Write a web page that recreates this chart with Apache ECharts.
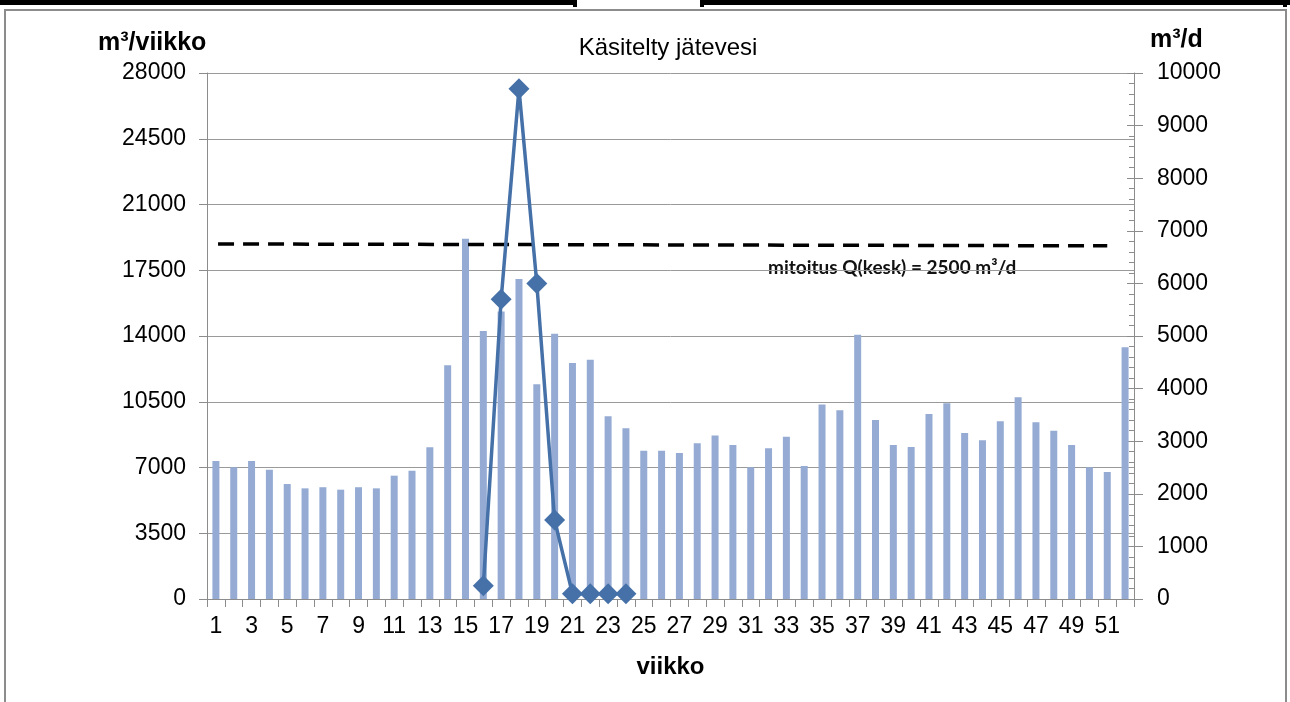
<!DOCTYPE html>
<html>
<head>
<meta charset="utf-8">
<script src="https://cdn.jsdelivr.net/npm/echarts@6/dist/echarts.min.js"></script>
<style>html,body{margin:0;padding:0;background:#fff;}#c{width:1290px;height:702px;}</style>
</head>
<body>
<div id="c"></div>
<script>
const weeks = Array.from({length: 52}, (_, i) => String(i + 1));
const weeklyVolume = [7350, 7010, 7350, 6885, 6120, 5890, 5950, 5820, 5950, 5890,
  6565, 6830, 8075, 12440, 19180, 14270, 15300, 17030, 11430, 14125,
  12560, 12740, 9725, 9085, 7895, 7895, 7770, 8290, 8710, 8200,
  7010, 8020, 8640, 7080, 10360, 10045, 14070, 9530, 8200, 8090,
  9850, 10420, 8840, 8450, 9460, 10740, 9405, 8960, 8200, 7010,
  6760, 13400];
const dailyWeeks = ['16', '17', '18', '19', '20', '21', '22', '23', '24'];
const dailyValues = [250, 5700, 9700, 6000, 1500, 100, 100, 100, 100];
const designLineX = [0.62, 50.5];
const designLineY = [18900, 18800];
const leftTicks = {min: 0, max: 28000, interval: 3500};
const rightTicks = {min: 0, max: 10000, interval: 1000};
const titleText = 'Käsitelty jätevesi';
const leftName = 'm³/viikko';
const rightName = 'm³/d';
const xName = 'viikko';
const noteText = 'mitoitus Q(kesk) = 2500 m³/d';

const lineData = weeks.map(w => {
  const k = dailyWeeks.indexOf(w);
  return k >= 0 ? dailyValues[k] : null;
});
const dashData = designLineX.map((x, i) => [x, designLineY[i]]);

const chart = echarts.init(document.getElementById('c'), null, {renderer: 'canvas'});
const lblFont = {color: '#000', fontFamily: 'Liberation Sans', fontSize: 23};
const plain = v => String(v);
chart.setOption({
  animation: false,
  backgroundColor: '#fff',
  grid: {left: 207, right: 156, top: 73, bottom: 103, containLabel: false},
  title: {
    text: titleText, left: 663, top: 31, textAlign: 'center',
    textStyle: {fontFamily: 'Liberation Sans', fontSize: 24, fontWeight: 'normal', color: '#000'}
  },
  graphic: [
    {type: 'rect', shape: {x: 0, y: 0, width: 577, height: 5}, style: {fill: '#000'}},
    {type: 'rect', shape: {x: 700, y: 0, width: 590, height: 5}, style: {fill: '#000'}},
    {type: 'rect', shape: {x: 700, y: 0, width: 4, height: 7}, style: {fill: '#000'}},
    {type: 'rect', shape: {x: 573, y: 0, width: 4, height: 7}, style: {fill: '#000'}},
    {type: 'rect', shape: {x: 1283, y: 0, width: 4, height: 7}, style: {fill: '#000'}},
    {type: 'rect', shape: {x: 5, y: 10, width: 1281, height: 720}, style: {fill: null, stroke: '#8c8c8c', lineWidth: 2}},
    {type: 'text', left: 98, top: 31, style: {text: leftName, font: 'bold 25px "Liberation Sans"', fill: '#000'}},
    {type: 'text', left: 1150, top: 28, style: {text: rightName, font: 'bold 25px "Liberation Sans"', fill: '#000'}},
    {type: 'text', left: 768, top: 258, style: {text: noteText, font: 'bold 19px Lato', fill: '#111'}}
  ],
  xAxis: [{
    type: 'category', data: weeks, boundaryGap: true,
    name: xName, nameLocation: 'middle', nameGap: 56,
    nameTextStyle: {fontFamily: 'Liberation Sans', fontSize: 24, fontWeight: 'bold', color: '#000'},
    axisLine: {lineStyle: {color: '#8c8c8c', width: 1}},
    axisTick: {show: true, interval: 0, length: 8, alignWithLabel: false, lineStyle: {color: '#8c8c8c'}},
    axisLabel: Object.assign({interval: 1, margin: 16}, lblFont)
  }, {
    type: 'value', min: 0, max: 52, show: false
  }],
  yAxis: [{
    type: 'value', position: 'left', min: leftTicks.min, max: leftTicks.max, interval: leftTicks.interval,
    axisLine: {show: true, lineStyle: {color: '#8c8c8c'}},
    axisTick: {show: true, length: 8, lineStyle: {color: '#8c8c8c'}},
    axisLabel: Object.assign({margin: 21, formatter: plain}, lblFont),
    splitLine: {show: true, lineStyle: {color: '#9a9a9a', width: 1}}
  }, {
    type: 'value', position: 'right', min: rightTicks.min, max: rightTicks.max, interval: rightTicks.interval,
    axisLine: {show: true, lineStyle: {color: '#8c8c8c'}},
    axisTick: {show: true, inside: true, length: 7, lineStyle: {color: '#8c8c8c'}},
    minorTick: {show: true, splitNumber: 5, length: 5, lineStyle: {color: '#8c8c8c'}},
    axisLabel: Object.assign({margin: 23, formatter: plain}, lblFont),
    splitLine: {show: false}
  }, {
    type: 'value', position: 'right', min: rightTicks.min, max: rightTicks.max, interval: rightTicks.interval,
    axisLine: {show: false},
    axisTick: {show: true, length: 9, lineStyle: {color: '#8c8c8c'}},
    axisLabel: {show: false},
    splitLine: {show: false}
  }],
  series: [{
    type: 'bar', data: weeklyVolume, barWidth: 7, xAxisIndex: 0, yAxisIndex: 0,
    itemStyle: {color: '#95abd4'}, z: 2
  }, {
    type: 'line', data: dashData, xAxisIndex: 1, yAxisIndex: 0, symbol: 'none',
    lineStyle: {color: '#000', width: 3.5, type: [16, 9]}, z: 3
  }, {
    type: 'line', data: lineData, xAxisIndex: 0, yAxisIndex: 1, connectNulls: false,
    symbol: 'diamond', symbolSize: 21, showSymbol: true, showAllSymbol: true,
    lineStyle: {color: '#4571a8', width: 3.5}, itemStyle: {color: '#4571a8'}, z: 4
  }]
});
</script>
</body>
</html>
